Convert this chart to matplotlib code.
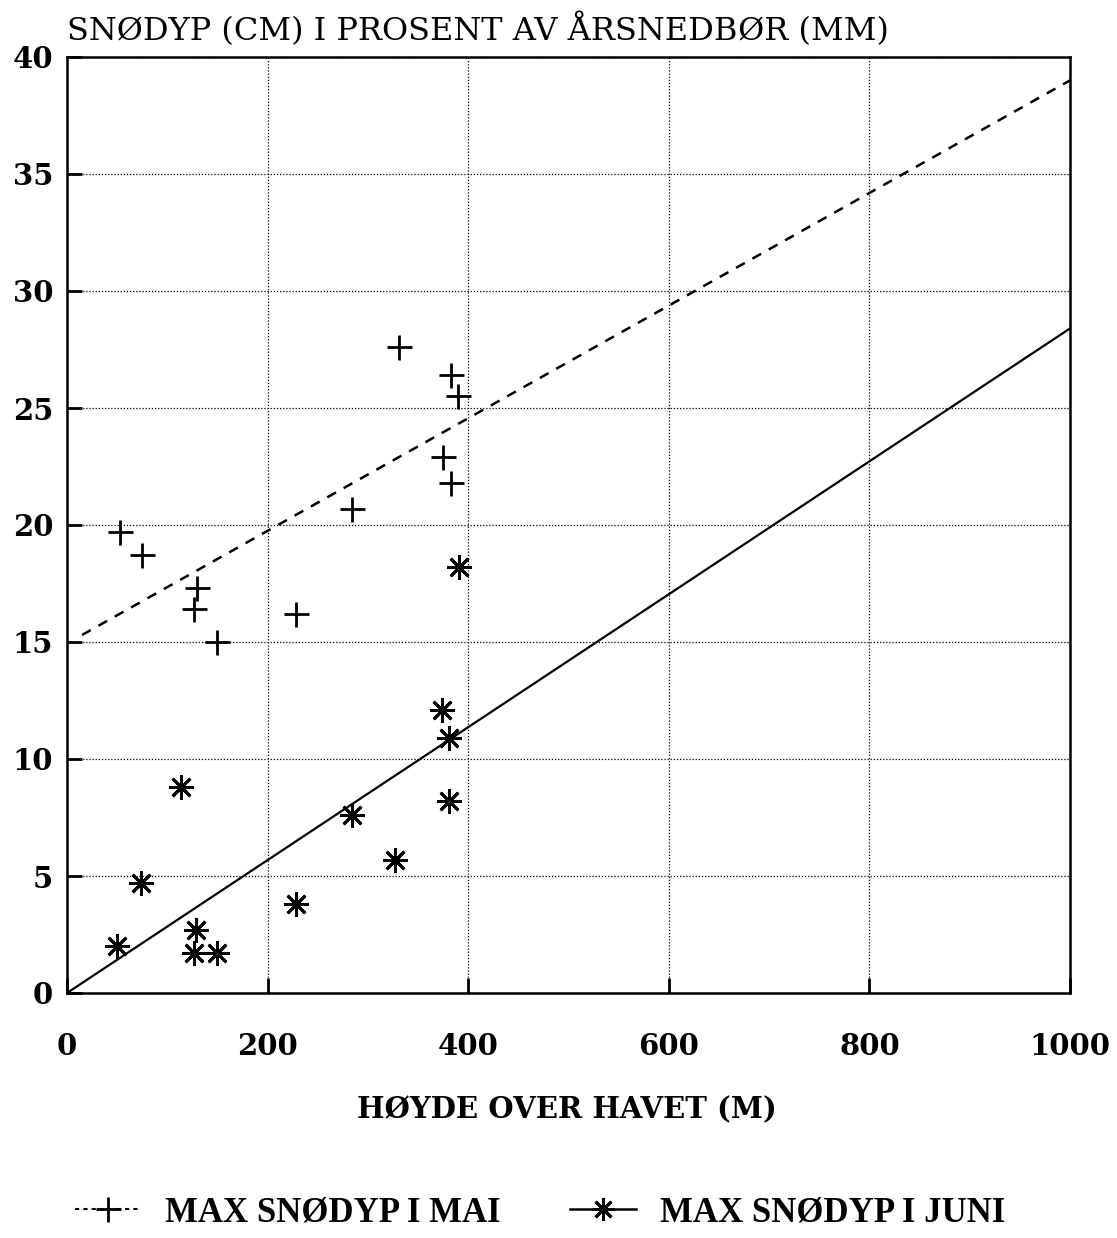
import matplotlib
matplotlib.use("Agg")
import matplotlib.pyplot as plt
from matplotlib.lines import Line2D
import numpy as np

# Data
mai_hoyde = [53, 75, 130, 127, 150, 228, 284, 331, 383, 390, 375, 383]
mai_snodyp = [19.7, 18.7, 17.3, 16.4, 15.0, 16.2, 20.7, 27.6, 26.4, 25.5, 22.9, 21.8]

juni_hoyde = [50, 74, 114, 129, 127, 150, 228, 284, 327, 374, 381, 381, 391]
juni_snodyp = [2.0, 4.7, 8.8, 2.7, 1.7, 1.7, 3.8, 7.6, 5.7, 12.1, 10.9, 8.2, 18.2]

# Regression lines (endpoints)
mai_line_x = [15, 1000]
mai_line_y = [15.3, 39.0]
juni_line_x = [0, 1000]
juni_line_y = [0.0, 28.4]

x_ticks = [0, 200, 400, 600, 800, 1000]
y_ticks = [0, 5, 10, 15, 20, 25, 30, 35, 40]

title = "SNØDYP (CM) I PROSENT AV ÅRSNEDBØR (MM)"
xlabel = "HØYDE OVER HAVET (M)"
label_mai = "MAX SNØDYP I MAI"
label_juni = "MAX SNØDYP I JUNI"

fig = plt.figure(figsize=(11.17, 12.38), dpi=100)
ax = fig.add_axes([67 / 1117, 1 - 993 / 1238, (1070 - 67) / 1117, (993 - 57) / 1238])

asterisk = (8, 2, 0)

ax.plot(mai_line_x, mai_line_y, color="black", lw=1.8, ls=(0, (4, 3.5)))
ax.plot(juni_line_x, juni_line_y, color="black", lw=1.6, ls="-")
ax.plot(mai_hoyde, mai_snodyp, ls="none", marker="+", ms=18, mew=2.0, color="black")
ax.plot(juni_hoyde, juni_snodyp, ls="none", marker=asterisk, ms=18, mew=2.0, color="black")

ax.set_xlim(0, 1000)
ax.set_ylim(0, 40)
ax.set_xticks(x_ticks)
ax.set_yticks(y_ticks)
ax.grid(True, color="black", ls=(0, (1, 1.5)), lw=0.9)
ax.tick_params(direction="in", length=11, width=2)
for s in ax.spines.values():
    s.set_linewidth(1.8)

tick_font = dict(family="DejaVu Serif", weight="bold", size=21)
ax.set_xticklabels([str(v) for v in x_ticks], fontdict=tick_font)
ax.set_yticklabels([str(v) for v in y_ticks], fontdict=tick_font)
ax.tick_params(axis="y", pad=10)
ax.tick_params(axis="x", pad=28)

fig.text(67 / 1117, 1 - 30 / 1238, title, family="DejaVu Serif", size=23,
         ha="left", va="center")
fig.text(567 / 1117, 1 - 1110 / 1238, xlabel, family="DejaVu Serif", weight="bold",
         size=21, ha="center", va="center")

h1 = Line2D([], [], color="black", ls=(0, (2, 2)), lw=1.5, marker="+", ms=18, mew=2)
h2 = Line2D([], [], color="black", ls="-", lw=1.8, marker=asterisk, ms=16, mew=2)
leg = fig.legend([h1, h2], [label_mai, label_juni], loc="center",
                 bbox_to_anchor=(540 / 1117, 1 - 1213 / 1238), ncol=2, frameon=False,
                 handlelength=1.9, columnspacing=2.0, handletextpad=0.7,
                 prop=dict(family="Liberation Serif", weight="bold", size=25))

fig.savefig("out.png", dpi=100, facecolor="white")
